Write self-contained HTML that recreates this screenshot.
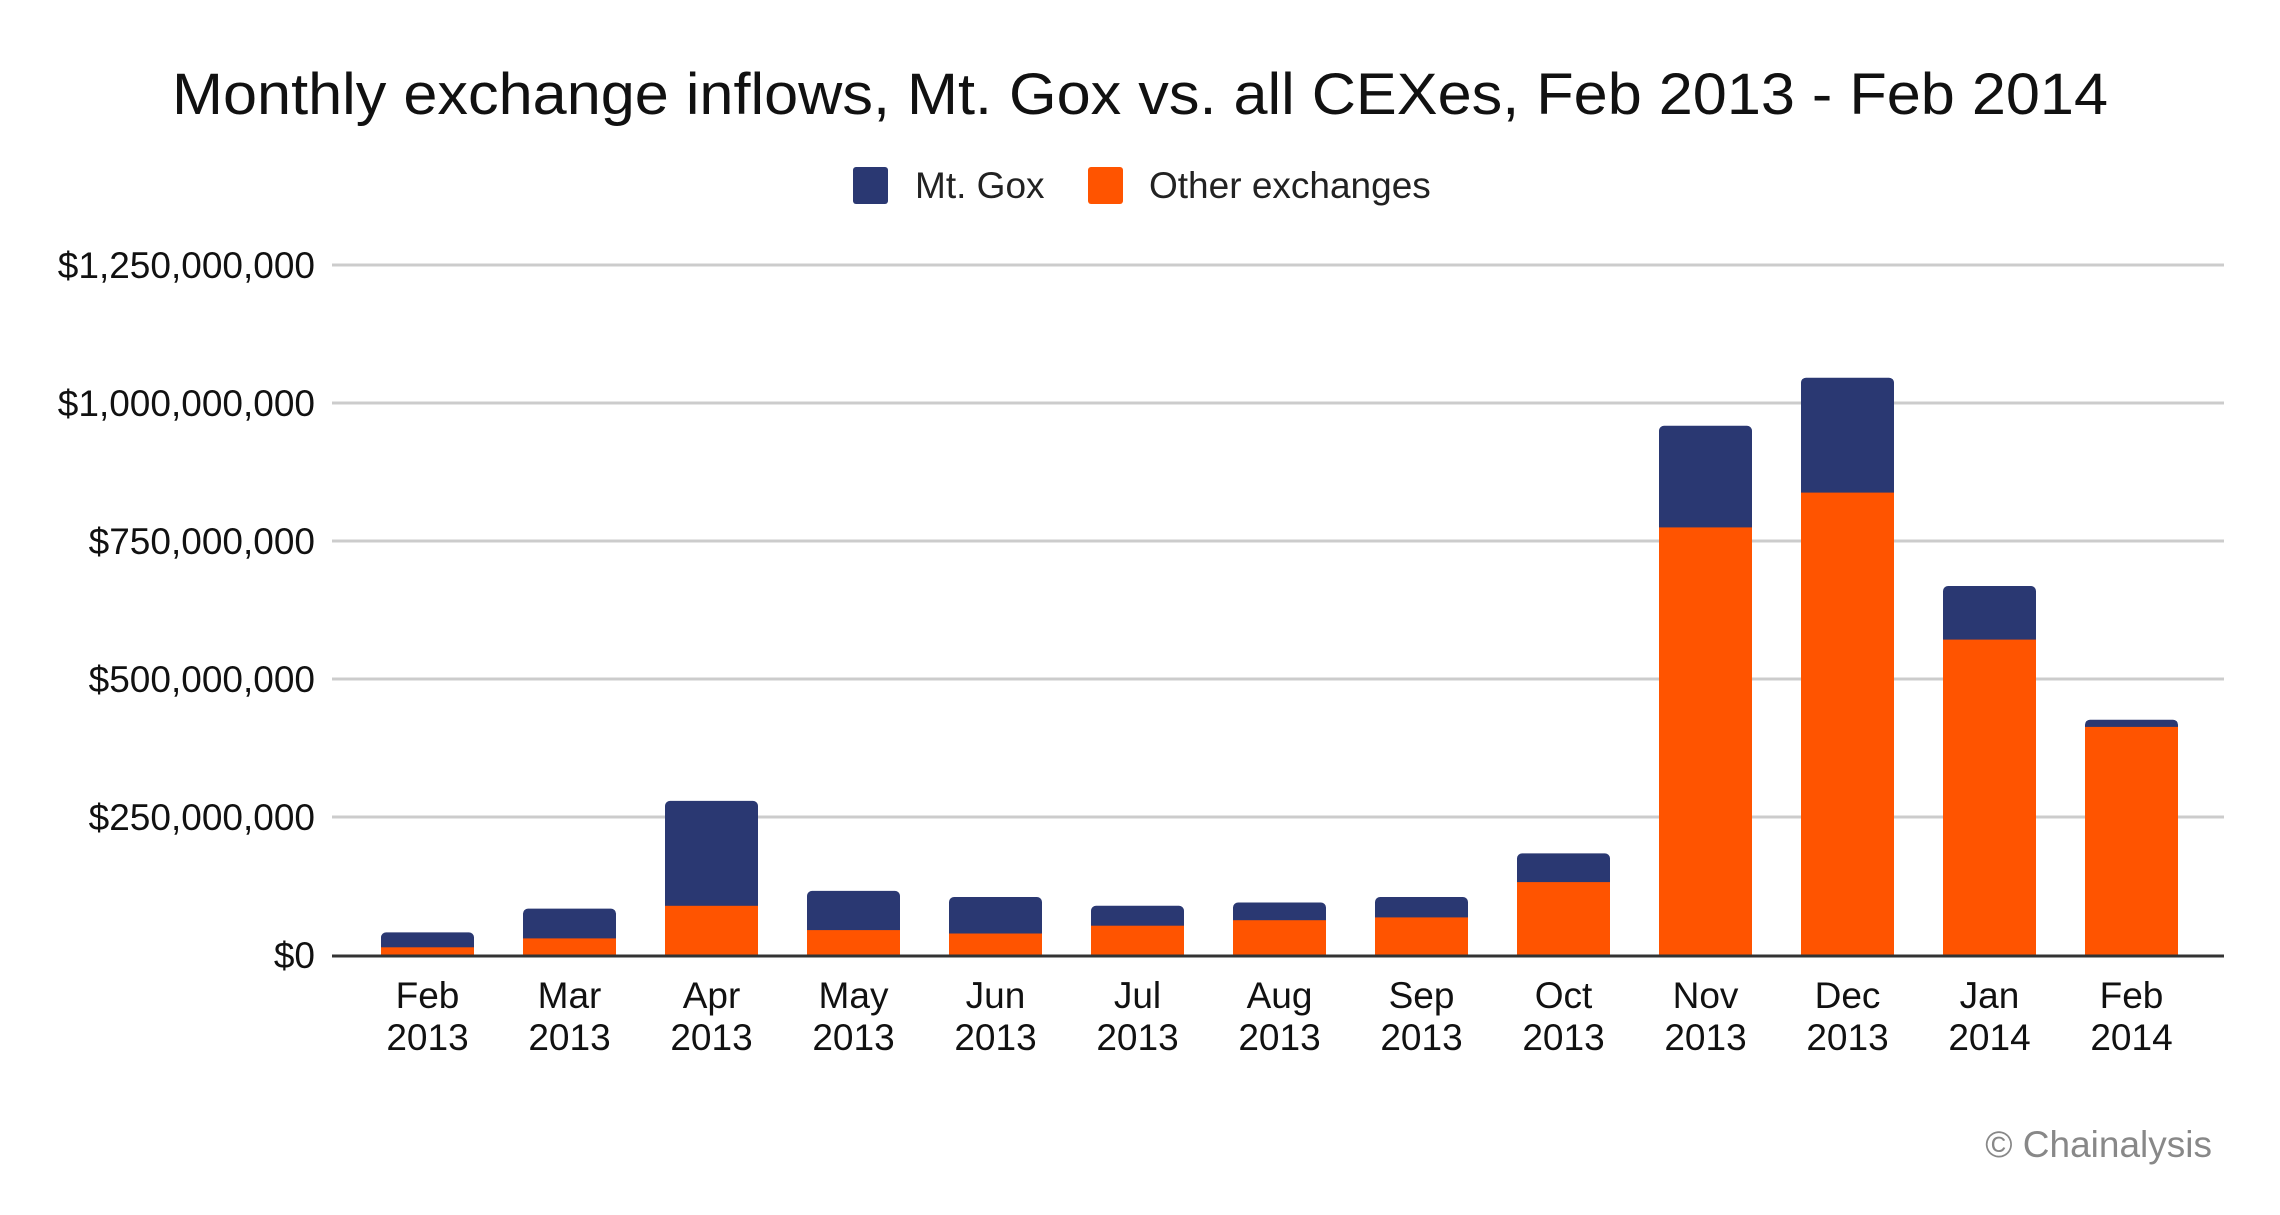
<!DOCTYPE html>
<html><head><meta charset="utf-8"><style>
html,body{margin:0;padding:0;background:#fff;}
svg{display:block;font-family:"Liberation Sans",sans-serif;}
</style></head><body>
<svg width="2280" height="1215" viewBox="0 0 2280 1215" xmlns="http://www.w3.org/2000/svg">
<text x="172" y="114" font-size="58" fill="#111" textLength="1936" lengthAdjust="spacingAndGlyphs">Monthly exchange inflows, Mt. Gox vs. all CEXes, Feb 2013 - Feb 2014</text>
<rect x="853" y="167" width="35" height="37" rx="3" fill="#2a3872"/>
<text x="915" y="198" font-size="37" fill="#222">Mt. Gox</text>
<rect x="1088" y="167" width="35" height="37" rx="3" fill="#ff5400"/>
<text x="1149" y="198" font-size="37" fill="#222">Other exchanges</text>
<g stroke="#cccccc" stroke-width="3">
<line x1="332" x2="2224" y1="265" y2="265"/>
<line x1="332" x2="2224" y1="403" y2="403"/>
<line x1="332" x2="2224" y1="541" y2="541"/>
<line x1="332" x2="2224" y1="679" y2="679"/>
<line x1="332" x2="2224" y1="817" y2="817"/>
</g>
<g font-size="37" fill="#111" text-anchor="end">
<text x="315" y="278">$1,250,000,000</text>
<text x="315" y="416">$1,000,000,000</text>
<text x="315" y="554">$750,000,000</text>
<text x="315" y="692">$500,000,000</text>
<text x="315" y="830">$250,000,000</text>
<text x="315" y="968">$0</text>
</g>
<g fill="#2a3872">
<rect x="381" y="932.4" width="93" height="22.6" rx="5"/>
<rect x="523" y="908.6" width="93" height="46.4" rx="5"/>
<rect x="665" y="800.9" width="93" height="154.1" rx="5"/>
<rect x="807" y="890.9" width="93" height="64.1" rx="5"/>
<rect x="949" y="897" width="93" height="58" rx="5"/>
<rect x="1091" y="905.8" width="93" height="49.2" rx="5"/>
<rect x="1233" y="902.5" width="93" height="52.5" rx="5"/>
<rect x="1375" y="897" width="93" height="58" rx="5"/>
<rect x="1517" y="853.4" width="93" height="101.6" rx="5"/>
<rect x="1659" y="425.8" width="93" height="529.2" rx="5"/>
<rect x="1801" y="377.7" width="93" height="577.3" rx="5"/>
<rect x="1943" y="586" width="93" height="369" rx="5"/>
<rect x="2085" y="719.7" width="93" height="235.3" rx="5"/>
</g>
<g fill="#ff5400">
<rect x="381" y="947.3" width="93" height="7.7"/>
<rect x="523" y="938.4" width="93" height="16.6"/>
<rect x="665" y="905.8" width="93" height="49.2"/>
<rect x="807" y="930.1" width="93" height="24.9"/>
<rect x="949" y="933.5" width="93" height="21.5"/>
<rect x="1091" y="925.7" width="93" height="29.3"/>
<rect x="1233" y="920.2" width="93" height="34.8"/>
<rect x="1375" y="917.4" width="93" height="37.6"/>
<rect x="1517" y="882.1" width="93" height="72.9"/>
<rect x="1659" y="527.4" width="93" height="427.6"/>
<rect x="1801" y="492.6" width="93" height="462.4"/>
<rect x="1943" y="639.6" width="93" height="315.4"/>
<rect x="2085" y="726.9" width="93" height="228.1"/>
</g>
<line x1="332" x2="2224" y1="956" y2="956" stroke="#333" stroke-width="3"/>
<g font-size="37" fill="#111" text-anchor="middle">
<text x="427.5" y="1008">Feb</text><text x="427.5" y="1050">2013</text>
<text x="569.5" y="1008">Mar</text><text x="569.5" y="1050">2013</text>
<text x="711.5" y="1008">Apr</text><text x="711.5" y="1050">2013</text>
<text x="853.5" y="1008">May</text><text x="853.5" y="1050">2013</text>
<text x="995.5" y="1008">Jun</text><text x="995.5" y="1050">2013</text>
<text x="1137.5" y="1008">Jul</text><text x="1137.5" y="1050">2013</text>
<text x="1279.5" y="1008">Aug</text><text x="1279.5" y="1050">2013</text>
<text x="1421.5" y="1008">Sep</text><text x="1421.5" y="1050">2013</text>
<text x="1563.5" y="1008">Oct</text><text x="1563.5" y="1050">2013</text>
<text x="1705.5" y="1008">Nov</text><text x="1705.5" y="1050">2013</text>
<text x="1847.5" y="1008">Dec</text><text x="1847.5" y="1050">2013</text>
<text x="1989.5" y="1008">Jan</text><text x="1989.5" y="1050">2014</text>
<text x="2131.5" y="1008">Feb</text><text x="2131.5" y="1050">2014</text>
</g>
<text x="2212" y="1157" font-size="37" fill="#888" text-anchor="end">© Chainalysis</text>
</svg>
</body></html>
